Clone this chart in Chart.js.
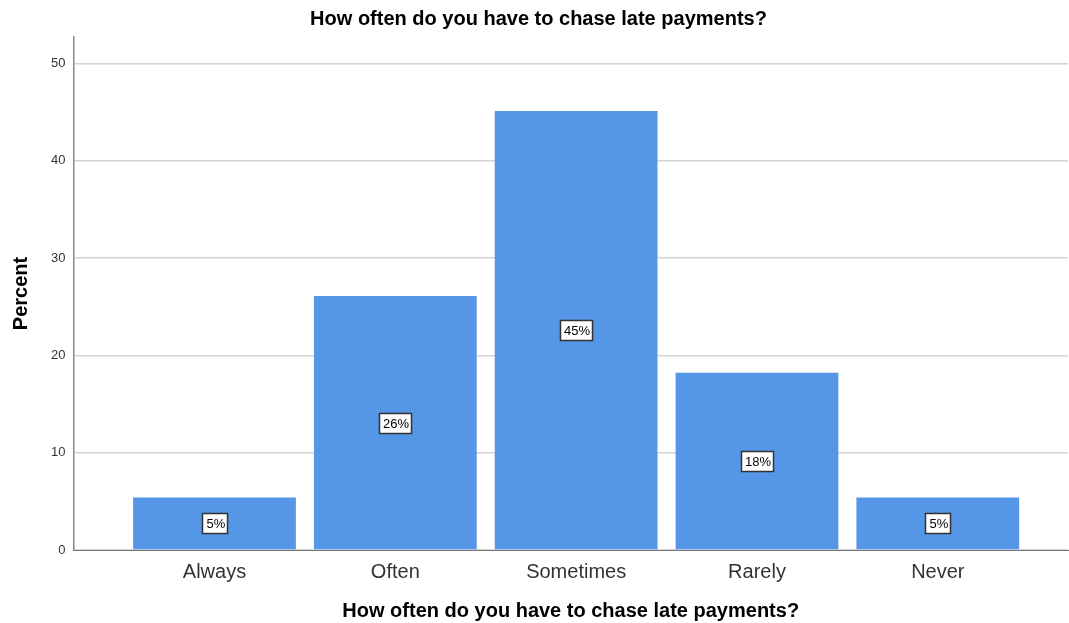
<!DOCTYPE html>
<html>
<head>
<meta charset="utf-8">
<script src="https://cdn.jsdelivr.net/npm/chart.js@4/dist/chart.umd.min.js"></script>
<style>
  html, body { margin: 0; padding: 0; background: #fff; }
  #wrap { width: 1069px; height: 623px; }
</style>
</head>
<body>
<div id="wrap"><canvas id="chart" width="1069" height="623"></canvas></div>
<script>
const categories = ["Always", "Often", "Sometimes", "Rarely", "Never"];
const percents = [5.4, 26.1, 45.1, 18.2, 5.4];
const yTicks = [0, 10, 20, 30, 40, 50];
const chartTitle = "How often do you have to chase late payments?";

const FONT = "'Liberation Sans', Arial, sans-serif";

// labels boxed in the middle of each bar
const boxLabels = {
  id: "boxLabels",
  afterDatasetsDraw(chart) {
    const ctx = chart.ctx;
    const meta = chart.getDatasetMeta(0);
    ctx.save();
    ctx.font = "13px " + FONT;
    ctx.textAlign = "center";
    ctx.textBaseline = "middle";
    meta.data.forEach((bar, i) => {
      const txt = Math.round(percents[i]) + "%";
      const cx = Math.round(bar.x);
      const cy = Math.round((bar.y + bar.base) / 2);
      const w = Math.round(ctx.measureText(txt).width + 6);
      const h = 20;
      const x0 = cx - Math.round(w / 2);
      const y0 = cy - h / 2;
      ctx.fillStyle = "#fff";
      ctx.fillRect(x0, y0, w, h);
      ctx.strokeStyle = "#333";
      ctx.lineWidth = 1.5;
      ctx.strokeRect(x0 + 0.5, y0 + 0.5, w, h);
      ctx.fillStyle = "#000";
      ctx.fillText(txt, cx + 1, cy + 1);
    });
    ctx.restore();
  },
};

new Chart(document.getElementById("chart"), {
  type: "bar",
  data: {
    datasets: [
      {
        data: percents.map((v, i) => ({ x: i, y: v })),
        backgroundColor: "#5596E6",
        borderWidth: 0,
        barPercentage: 0.9,
        categoryPercentage: 1,
      },
    ],
  },
  options: {
    responsive: false,
    animation: false,
    layout: { padding: { left: 9, right: 1, top: 0, bottom: 0 } },
    plugins: {
      legend: { display: false },
      tooltip: { enabled: false },
      title: {
        display: true,
        text: chartTitle,
        color: "#000",
        font: { family: FONT, size: 20, weight: "bold" },
        padding: { top: 7, bottom: 6 },
      },
    },
    scales: {
      x: {
        type: "linear",
        offset: false,
        min: -0.78,
        max: 4.72,
        afterBuildTicks: (s) => {
          s.ticks = categories.map((c, i) => ({ value: i }));
        },
        ticks: {
          callback: (v) => categories[v],
          color: "#333",
          font: { family: FONT, size: 20 },
          padding: 10,
          maxRotation: 0,
          autoSkip: false,
        },
        grid: { display: false, drawTicks: false },
        border: { color: "#777", width: 1 },
        title: {
          display: true,
          text: chartTitle,
          color: "#000",
          font: { family: FONT, size: 20, weight: "bold" },
          padding: { top: 5, bottom: 0 },
        },
      },
      y: {
        min: 0,
        max: 52.7,
        afterBuildTicks: (s) => {
          s.ticks = yTicks.map((v) => ({ value: v }));
        },
        ticks: {
          color: "#333",
          font: { family: FONT, size: 13 },
          padding: 8,
        },
        grid: { color: "#d4d4d4", lineWidth: 1.5, drawTicks: false },
        border: { color: "#888", width: 1.5 },
        title: {
          display: true,
          text: "Percent",
          color: "#000",
          font: { family: FONT, size: 20, weight: "bold" },
          padding: { top: 0, bottom: 10 },
        },
      },
    },
  },
  plugins: [boxLabels],
});
</script>
</body>
</html>
